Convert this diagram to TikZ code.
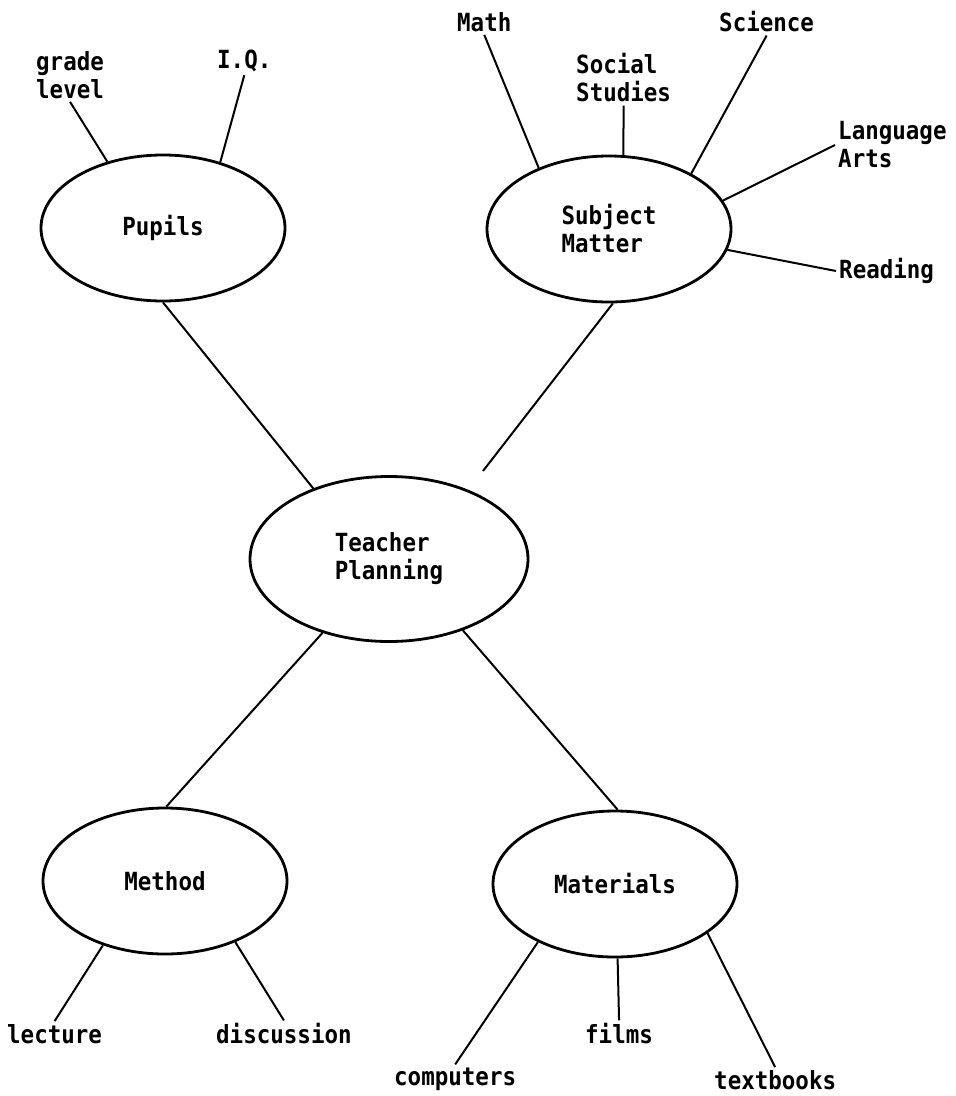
\documentclass[tikz,border=0pt]{standalone}
\usepackage{fontspec}
\newfontfamily\typefont[FakeStretch=0.9]{DejaVu Sans Mono}
\usetikzlibrary{shapes.geometric}

\begin{document}
\begin{tikzpicture}[x=1pt, y=-1pt, font=\typefont\bfseries\fontsize{25}{28}\selectfont,
    blob/.style={ellipse, draw, line width=2.8pt, minimum width=244pt, minimum height=146pt, inner sep=0pt, align=left},
    lbl/.style={inner sep=3pt, align=left},
    link/.style={line width=2pt}]
    \useasboundingbox (0,0) rectangle (956,1096);
    % ovals
    \node[blob] (pupils) at (163,228) {Pupils};
    \node[blob] (subj) at (609,229) {Subject\\Matter};
    \node[blob, minimum width=278pt, minimum height=165pt] (plan) at (389,559) {Teacher\\Planning};
    \node[blob] (method) at (165,881) {Method};
    \node[blob] (mat) at (615,884) {Materials};
    % labels
    \node[lbl] (grade) at (33,75) [right] {grade\\level};
    \node[lbl] (iq) at (214,61) [right] {I.Q.};
    \node[lbl] (math) at (454,22) [right] {Math};
    \node[lbl] (social) at (573,78) [right] {Social\\Studies};
    \node[lbl] (science) at (716,22) [right] {Science};
    \node[lbl] (lang) at (835,145) [right] {Language\\Arts};
    \node[lbl] (reading) at (836,271) [right] {Reading};
    \node[lbl] (lecture) at (4,1034) [right] {lecture};
    \node[lbl] (discussion) at (213,1034) [right] {discussion};
    \node[lbl] (films) at (582,1034) [right] {films};
    \node[lbl] (computers) at (391,1079) [right] {computers};
    \node[lbl] (textbooks) at (711,1080) [right] {textbooks};
    % connectors
    \draw[link] (grade.south) -- (pupils.130.7);
    \draw[link] (iq.south) -- (pupils.49.3);
    \draw[link] (pupils.south) -- (plan.137.4);
    \foreach \n/\side/\ang in {math/south/139.7, social/south/79.8, science/south/34.3, lang/west/14.3, reading/west/-10.1}
        \draw[link] (\n.\side) -- (subj.\ang);
    \coordinate (gap) at (483,471);
    \draw[link] (subj.-87.6) -- (gap);
    \draw[link] (plan.-132.2) -- (method.89);
    \draw[link] (plan.-44.2) -- (mat.88);
    \draw[link] (lecture.north) -- (method.-134.6);
    \draw[link] (discussion.north) -- (method.-41.9);
    \foreach \n/\ang in {computers/-143, films/-88, textbooks/-28.6}
        \draw[link] (\n.north) -- (mat.\ang);
\end{tikzpicture}
\end{document}
